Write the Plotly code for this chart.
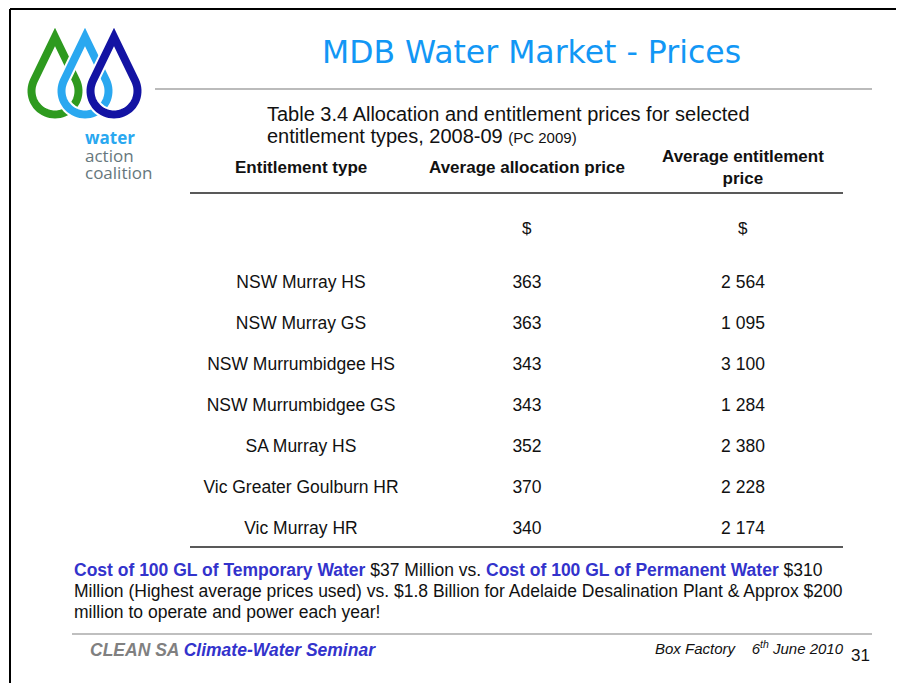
import math
import plotly.graph_objects as go

# ---------------- data ----------------
entitlement_types = [
    "NSW Murray HS",
    "NSW Murray GS",
    "NSW Murrumbidgee HS",
    "NSW Murrumbidgee GS",
    "SA Murray HS",
    "Vic Greater Goulburn HR",
    "Vic Murray HR",
]
allocation_price = [363, 363, 343, 343, 352, 370, 340]
entitlement_price = [2564, 1095, 3100, 1284, 2380, 2228, 2174]
column_headers = ["Entitlement type", "Average allocation price", "Average entitlement<br>price"]
column_units = ["", "$", "$"]

title_text = "MDB Water Market - Prices"
caption_line1 = "Table 3.4 Allocation and entitlement prices for selected"
caption_line2 = "entitlement types, 2008-09"
caption_source = "(PC 2009)"

# ---------------- layout constants ----------------
PAGE_W, PAGE_H = 904, 683
OFF = 8  # browser body margin
FIG_W, FIG_H = PAGE_W - OFF, PAGE_H - OFF
FONT = "Liberation Sans, Arial, sans-serif"
COL_X = [301, 527, 743]
ROW_TOP, ROW_STEP = 283.5, 41
BLUE = "#3333CC"


def fmt(v):
    return f"{v:,}".replace(",", " ")


fig = go.Figure()

# table body through a categorical row axis
n = len(entitlement_types)
cols = [entitlement_types, [fmt(v) for v in allocation_price], [fmt(v) for v in entitlement_price]]
for cx, texts in zip(COL_X, cols):
    fig.add_trace(go.Scatter(
        x=[cx] * n, y=entitlement_types, mode="text", text=texts,
        textposition="middle center",
        textfont=dict(family=FONT, size=17.5, color="#111111"),
        xaxis="x", yaxis="y2", hoverinfo="skip", showlegend=False,
    ))

y_top_px = ROW_TOP - ROW_STEP / 2
y_bot_px = ROW_TOP + ROW_STEP * (n - 1) + ROW_STEP / 2

annotations = []
shapes = []

def ann(x, y, text, size, color="#111111", xanchor="center", family=FONT, yanchor="middle", align="center"):
    annotations.append(dict(x=x, y=y, xref="x", yref="y", text=text, showarrow=False,
                            xanchor=xanchor, yanchor=yanchor, align=align, borderpad=0,
                            font=dict(family=family, size=size, color=color)))

def line(x0, y0, x1, y1, color, width):
    shapes.append(dict(type="line", xref="x", yref="y", x0=x0, y0=y0, x1=x1, y1=y1,
                       line=dict(color=color, width=width), layer="above"))

# slide frame
line(10, 9, 904, 9, "#000000", 2)
line(10, 9, 10, 683, "#000000", 2)

# title
ann(531, 52, title_text, 31.5, color="#1297F5", family="DejaVu Sans, Verdana, sans-serif")
line(155, 89, 872, 89, "#BBBBBB", 2)

# caption
ann(266, 114, caption_line1, 20, xanchor="left")
ann(266, 136, caption_line2 + " <span style='font-size:15px'>" + caption_source + "</span>", 20, xanchor="left")

# headers
header_y = [167, 167, 167]
for cx, hy, h in zip(COL_X, header_y, column_headers):
    ann(cx, hy, "<b>" + h + "</b>", 17)
for cx, u in zip(COL_X, column_units):
    if u:
        ann(cx, 228, u, 17)
line(190, 193, 843, 193, "#222222", 1.5)
line(190, 547, 843, 547, "#222222", 1.5)

# footnote
fn1 = ("<b><span style='color:%s'>Cost of 100 GL of Temporary Water</span></b> $37 Million vs. "
       "<b><span style='color:%s'>Cost of 100 GL of Permanent Water</span></b> $310") % (BLUE, BLUE)
ann(73, 570, fn1, 17.5, xanchor="left")
ann(73, 591, "Million (Highest average prices used) vs. $1.8 Billion for Adelaide Desalination Plant &amp; Approx $200", 17.5, xanchor="left")
ann(73, 612, "million to operate and power each year!", 17.5, xanchor="left")

# footer
line(72, 634, 872, 634, "#AAAAAA", 1.5)
ann(89, 650, "<b><i>CLEAN SA <span style='color:%s'>Climate-Water Seminar</span></i></b>" % BLUE, 17.5,
    color="#808080", xanchor="left")
ann(845, 647, "<i>Box Factory\u00a0\u00a0\u00a0 6<sup>th</sup> June 2010</i>", 15, xanchor="right")
ann(860, 655, "31", 17)

# logo text
ann(84, 137, "<b>water</b>", 17, color="#2AA8F0", xanchor="left", family="Open Sans, sans-serif")
ann(84, 155, "action", 17, color="#66777C", xanchor="left", family="Open Sans, sans-serif")
ann(84, 172, "coalition", 17, color="#66777C", xanchor="left", family="Open Sans, sans-serif")


# logo drops
def drop_path(cx, apex_y, cy, r):
    d = cy - apex_y
    phi = math.acos(r / d)
    pts = [(cx, apex_y)]
    steps = 40
    a0 = phi
    a1 = 2 * math.pi - phi
    for i in range(steps + 1):
        a = a0 + (a1 - a0) * i / steps
        pts.append((cx + r * math.sin(a), cy - r * math.cos(a)))
    return "M %.2f,%.2f " % pts[0] + " ".join("L %.2f,%.2f" % p for p in pts[1:]) + " Z"

drops = [(55, "#2E9A1F"), (85, "#2AA8F0"), (114, "#1313A3")]
for cx, col in drops:
    p = drop_path(cx, 37, 91, 23.5)
    shapes.append(dict(type="path", xref="x", yref="y", path=p,
                       line=dict(color="white", width=12), layer="above"))
    shapes.append(dict(type="path", xref="x", yref="y", path=p,
                       line=dict(color=col, width=8), layer="above"))

fig.update_layout(
    width=FIG_W, height=FIG_H,
    margin=dict(l=0, r=0, t=0, b=0),
    paper_bgcolor="white", plot_bgcolor="white",
    xaxis=dict(range=[OFF, PAGE_W], visible=False, fixedrange=True),
    yaxis=dict(range=[PAGE_H, OFF], visible=False, fixedrange=True),
    yaxis2=dict(type="category", categoryorder="array", categoryarray=entitlement_types,
                range=[n - 0.5, -0.5],
                domain=[1 - (y_bot_px - OFF) / FIG_H, 1 - (y_top_px - OFF) / FIG_H],
                anchor="x", visible=False, fixedrange=True),
    annotations=annotations,
    shapes=shapes,
    showlegend=False,
)

fig.write_html("out.html")
